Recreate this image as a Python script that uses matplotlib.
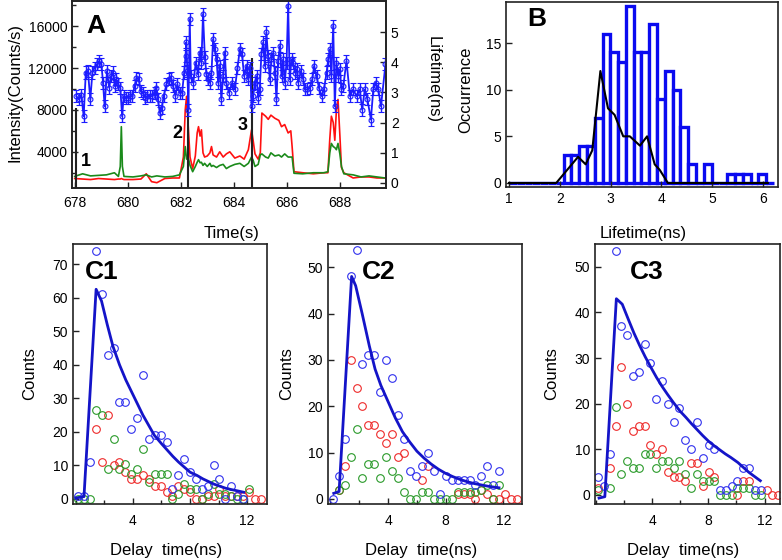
import numpy as np
import matplotlib
matplotlib.use('Agg')
import matplotlib.pyplot as plt
from matplotlib.ticker import MultipleLocator

plt.rcParams['font.family'] = ['Liberation Sans', 'DejaVu Sans']

W, H = 782, 560

# ---------------- panel A data ----------------
# lifetime trace (ns), right axis
lt_time = [678.06, 678.16, 678.25, 678.34, 678.42, 678.50, 678.59, 678.67, 678.75, 678.84,
           678.92, 679.01, 679.07, 679.13, 679.22, 679.30, 679.37, 679.45, 679.51, 679.57,
           679.64, 679.72, 679.79, 679.85, 679.92, 680.01, 680.10, 680.18, 680.26, 680.33,
           680.42, 680.49, 680.58, 680.67, 680.74, 680.83, 680.92, 681.02, 681.08, 681.14,
           681.21, 681.28, 681.36, 681.46, 681.55, 681.62, 681.71, 681.80, 681.87, 681.96,
           682.05, 682.13, 682.18, 682.21, 682.25, 682.29, 682.34, 682.38, 682.47, 682.57,
           682.65, 682.72, 682.78, 682.84, 682.91, 682.97, 683.03, 683.09, 683.16, 683.22,
           683.28, 683.35, 683.41, 683.47, 683.53, 683.60, 683.66, 683.72, 683.82,
           683.94, 684.04, 684.14, 684.23, 684.31, 684.39, 684.48, 684.54, 684.62, 684.67,
           684.73, 684.79, 684.86, 684.92, 684.98, 685.04, 685.11, 685.17, 685.23, 685.29,
           685.36, 685.42, 685.49, 685.55, 685.61, 685.67, 685.74, 685.80, 685.86, 685.92,
           685.99, 686.05, 686.11, 686.18, 686.24, 686.30, 686.37, 686.43, 686.53, 686.62,
           686.68, 686.77, 686.87, 686.96, 687.03, 687.12, 687.21, 687.31, 687.40, 687.50,
           687.56, 687.62, 687.68, 687.75, 687.81, 687.87, 687.94, 688.00, 688.06, 688.13,
           688.25, 688.38, 688.50, 688.63, 688.75, 688.84, 688.94, 689.04, 689.17, 689.26,
           689.35, 689.45, 689.55, 689.72]
lt_val = [2.88, 2.77, 2.93, 2.21, 3.66, 3.71, 2.77, 3.66, 3.82, 3.93,
          4.04, 3.93, 3.32, 2.54, 3.71, 3.16, 3.54, 3.66, 3.21, 3.43,
          3.27, 3.16, 2.21, 2.88, 2.82, 2.82, 2.88, 2.88, 3.21, 3.49,
          3.43, 3.04, 2.99, 2.82, 2.88, 2.88, 2.88, 2.99, 3.16, 2.77,
          2.32, 2.49, 2.88, 3.27, 3.43, 3.49, 3.21, 2.88, 3.27, 2.99,
          2.99, 3.66, 4.21, 4.66, 3.71, 2.43, 5.43, 3.54, 3.32, 3.99,
          3.60, 4.32, 3.99, 5.60, 4.16, 3.60, 3.43, 3.32, 3.66, 4.77,
          4.43, 4.10, 3.32, 3.88, 2.77, 3.54, 4.32, 3.32, 2.99,
          3.32, 3.10, 3.82, 4.43, 4.27, 3.54, 3.88, 3.43, 3.82, 2.54,
          2.88, 3.32, 3.54, 2.82, 3.10, 4.27, 4.66, 3.88, 4.99, 4.21,
          3.43, 4.10, 4.32, 3.66, 2.77, 4.04, 4.54, 3.54, 4.10, 3.32,
          3.99, 5.88, 3.43, 4.10, 3.99, 3.66, 3.77, 3.32, 3.71, 3.43,
          3.10, 3.10, 3.16, 3.43, 3.88, 3.54, 3.16, 2.88, 3.10, 3.66,
          4.10, 4.43, 3.54, 5.21, 2.54, 3.99, 3.54, 3.77, 3.10, 3.21,
          4.04, 2.88, 3.10, 2.88, 3.10, 2.43, 3.10, 2.77, 2.10, 3.10,
          3.32, 3.10, 2.54, 3.93]
lt_err = 0.2

# intensity traces (counts/s), left axis
int_time = [678.0, 678.3, 678.6, 678.9, 679.2, 679.5, 679.65, 679.72, 679.76, 679.8,
            679.86, 680.2, 680.5, 680.7, 680.9, 681.1, 681.4, 681.7, 681.95, 682.1,
            682.17, 682.22, 682.27, 682.35, 682.45, 682.55, 682.62, 682.67, 682.73, 682.78,
            682.84, 682.9, 683.0, 683.1, 683.16, 683.22, 683.35, 683.47, 683.6, 683.72,
            683.85, 684.04, 684.23, 684.39, 684.55, 684.67, 684.73, 684.8, 684.92, 685.0,
            685.06, 685.2, 685.3, 685.4, 685.55, 685.7, 685.8, 685.92, 686.05, 686.15,
            686.2, 686.27, 686.6, 687.0, 687.4, 687.55, 687.62, 687.68, 687.75, 687.81,
            687.87, 687.93, 688.0, 688.06, 688.15, 688.5, 688.8, 689.1, 689.4, 689.7]
int_red = [1450, 1400, 1350, 1450, 1400, 1350, 1400, 1400, 1450, 1400,
           1350, 1350, 1400, 1900, 1150, 1050, 1450, 1500, 1500, 3500,
           8000, 9300, 7000, 3500, 2400, 3600, 5800, 6400, 5500, 6100,
           3900, 3500, 3600, 3900, 4500, 3700, 3500, 4000, 3500, 3800,
           4000, 3400, 3600, 3300, 4200, 6100, 5100, 3800, 3300, 3900,
           7700, 7400, 7100, 7500, 7200, 7000, 6400, 6600, 5800, 6000,
           4500, 2100, 2000, 1900, 2000, 2000, 5200, 7400, 6800, 5100,
           8000, 9000, 5600, 2500, 2000, 1500, 1600, 1600, 1500, 1500]
int_green = [1650, 1900, 1700, 1750, 1800, 2000, 1650, 2600, 6400, 2600,
             1650, 1600, 1700, 1800, 1600, 1700, 1600, 1650, 1800, 2600,
             4500, 3300, 3600, 2700, 2100, 2600, 3000, 3250, 2950, 3000,
             2700, 2900, 2600, 2900, 2600, 2700, 2500, 2700, 2800, 2400,
             2600, 2800, 2900, 2600, 2900, 3500, 3200, 2600, 2800, 3700,
             3800, 3500, 3400, 3900, 3600, 3700, 3500, 3800, 3500, 3500,
             3500, 1950, 1900, 2000, 2000, 2100, 3900, 4800, 4500, 4400,
             4200, 4800, 3800, 2600, 1900, 1800, 1600, 1700, 1600, 1500]

marker_time = [678.05, 682.28, 684.7]
marker_top = [8200, 9300, 13000]
marker_names = ['1', '2', '3']

# ---------------- panel B data ----------------
bin_start = 1.0
bin_width = 0.1535
hist_counts = [0, 0, 0, 0, 0, 0, 0, 3, 3, 4, 4, 7, 16, 14, 13, 19, 14, 14, 17, 9,
               12, 10, 6, 2, 0, 2, 0, 0, 1, 1, 1, 0, 1, 0]
line_x = [1.0, 1.93, 2.36, 2.51, 2.64, 2.8, 2.95, 3.08, 3.25, 3.38, 3.58, 3.72,
          3.87, 3.97, 4.13, 6.1]
line_y = [0, 0, 2.8, 2.0, 3.5, 12, 8, 7.3, 5, 5, 4, 5, 2, 1.4, 0, 0]

# ---------------- panel C data ----------------
delay = np.round(0.16 + 0.413 * np.arange(32), 2)
nan = np.nan

c1_blue = [1, 1, 11, 74, 61, 43, 45, 29, 29, 21, 24, 37, 18, 19, 19, 17, 3, 7, 12, 8,
           6, 3, 4, 10, 6, 0, 4, 1, 0]
c1_red = [nan, nan, nan, 21, 11, 25, 10, 11, 8, 6, 6, 7, 6, 4, 4, 2, 1, 4, 3, 2,
          0, 0, 1, 1, 3, 1, 1, 1, 1, 2, 0, 0]
c1_green = [0, 0, 0, 26.5, 25, 9, 18, 9, 10.5, 7.5, 9, 15, 5, 7.5, 7.5, 7.5, 0, 1.5, 4.5, 3,
            3, 0, 1.5, 4.5, 1.5, 1.5, 1, 0, 0, 3]
c1_fit_t = [0.0, 0.57, 1.42, 1.8, 2.2, 2.6, 3.06, 3.5, 3.9, 4.3, 4.7, 5.1, 5.5, 6.0,
            6.4, 6.8, 7.2, 7.6, 8.0, 8.5, 8.9, 9.3, 9.7, 10.1, 10.5, 10.9, 11.35, 11.77]
c1_fit = [0.3, 0.7, 62.5, 59, 52, 45.5, 40, 35.5, 32, 28.5, 25, 22, 19, 16.5,
          14.6, 12.7, 11, 9.5, 8, 7, 6, 5.2, 4.4, 3.8, 3.2, 2.8, 2.4, 2]

c2_blue = [0, 5, 13, 48, 53.7, 29, 31, 31, 23, 30, 26, 18, 13, 6, 5, 7, 10, 6, 1, 5,
           4, 4, 4, 4, 3, 5, 7, 3, 6]
c2_red = [nan, 2, 7, 30, 24, 20, 16, 16, 14, 12, 14, 9, 10, nan, nan, 4, 7, nan, nan, nan,
          nan, 1, 1, 1, 0, 2, 1, 0, 0, 1, 0, 0]
c2_green = [nan, 2, 3, 9, 15, 4.5, 7.5, 7.5, 4.5, 9, 6, 4.5, 1.5, 0, 0, 1.5, 1.5, 0, 0, 0,
            0, 1.5, 1.5, 1.5, 1.5, 2, 3, 0, 3]
c2_fit_t = [0.23, 0.6, 1.47, 1.75, 2.2, 2.7, 3.1, 3.5, 4.0, 4.5, 5.0, 5.5, 6.0, 6.5,
            7.0, 7.5, 8.0, 8.5, 9.0, 9.5, 10.0, 10.5, 11.0, 11.7]
c2_fit = [1.2, 1.6, 48, 46, 40, 33, 28, 24.5, 21, 17.5, 14.5, 12.3, 10.3, 8.8,
          7.5, 6.4, 5.5, 4.8, 4.2, 3.7, 3.3, 3.0, 2.7, 2.4]

c3_blue = [4, 2, 9, 53.4, 37, 35, 26, 27, 33, 29, 21, 25, 20, 16, 19, 12, 10, 16, 8, 11,
           10, 1, 1, 2, 3, 6, 6, 1, 1]
c3_red = [1.5, nan, 6, 15, 28, 20, 14, 15, 15, 11, 9, 10, 5, 4, 4, 3, 7, 7, 2, 5,
          4, nan, nan, nan, 0, 3, 3, nan, nan, 1, 0, 0]
c3_green = [1, nan, 1.5, 19.3, 4.5, 7.5, 6, 6, 9, 9, 6, 7.5, 7.5, 6, 7.5, 4.5, 1.5, 4.5, 3, 3,
            3, 0, 0, 0, 1.5, 1.5, 1.5, 0, 0]
c3_fit_t = [0.22, 0.63, 1.45, 1.87, 2.3, 2.7, 3.1, 3.5, 3.9, 4.3, 4.7, 5.1, 5.5, 6.0,
            6.4, 6.8, 7.2, 7.6, 8.0, 8.4, 8.8, 9.2, 9.6, 10.1, 10.5, 10.9, 11.3, 11.7]
c3_fit = [-0.7, -0.4, 43, 41.8, 38.5, 35.5, 32.8, 30.3, 28, 25.8, 23.8, 22, 20.3, 18.3,
          17.0, 15.6, 14.3, 13.0, 11.8, 10.8, 9.9, 9.0, 8.2, 7.1, 6.0, 4.9, 4.0, 3.1]

BLUE = '#1c1cff'
RED = '#ff1010'
GREEN = '#1a8a1a'
FIT = '#1414c8'


def px(x, y):
    return x / W, 1 - y / H


def box(l, t, r, b):
    return [l / W, 1 - b / H, (r - l) / W, (b - t) / H]


def style(ax, xpad=3.5):
    for s in ax.spines.values():
        s.set_linewidth(1.2)
        s.set_color('#222222')
    ax.tick_params(which='both', direction='in', width=1, labelsize=10, color='#222222')
    ax.tick_params(which='major', length=4)
    ax.tick_params(which='minor', length=3)
    ax.tick_params(axis='x', pad=xpad)


fig = plt.figure(figsize=(W / 100, H / 100), dpi=100)

# ---------------- panel A ----------------
ax_a = fig.add_axes(box(72, 1, 386, 188))
style(ax_a, xpad=5.5)
ax_a.plot(int_time, int_red, color=RED, lw=1.2)
ax_a.plot(int_time, int_green, color=GREEN, lw=1.2)
for t, top, name in zip(marker_time, marker_top, marker_names):
    ax_a.vlines(t, 0, top, color='#222222', lw=1.5)
ax_a.set_xlim(677.9, 689.74)
ax_a.set_ylim(544, 18400)
ax_a.set_xticks([678, 680, 682, 684, 686, 688])
ax_a.set_yticks([4000, 8000, 12000, 16000])
ax_a.yaxis.set_minor_locator(MultipleLocator(2000))

ax_a2 = ax_a.twinx()
style(ax_a2)
ax_a2.errorbar(lt_time, lt_val, yerr=lt_err, fmt='-o', color=BLUE, lw=1.3, ms=3.5,
               mfc='none', mew=0.8, elinewidth=1, capsize=2.5, capthick=1)
ax_a2.set_ylim(-0.167, 6.03)
ax_a2.set_yticks([0, 1, 2, 3, 4, 5])

fig.text(*px(86, 26), 'A', fontsize=19, fontweight='bold', ha='left', va='center')
fig.text(*px(86, 161), '1', fontsize=13, fontweight='bold', ha='center', va='center')
fig.text(*px(177, 134), '2', fontsize=13, fontweight='bold', ha='center', va='center')
fig.text(*px(243, 125), '3', fontsize=13, fontweight='bold', ha='center', va='center')
fig.text(*px(15, 92), 'Intensity(Counts/s)', fontsize=12, rotation=90, ha='center', va='center')
fig.text(*px(433, 80), 'Lifetime(ns)', fontsize=12, rotation=270, ha='center', va='center')
fig.text(*px(232, 233), 'Time(s)', fontsize=12, ha='center', va='center')

# ---------------- panel B ----------------
ax_b = fig.add_axes(box(506, 2, 778, 187))
style(ax_b)
edges = bin_start + bin_width * np.arange(len(hist_counts))
ax_b.bar(edges, hist_counts, width=bin_width, align='edge', color='white',
         edgecolor='#0a0af0', lw=2.4)
ax_b.plot(line_x, line_y, color='black', lw=1.5)
ax_b.set_xlim(0.94, 6.3)
ax_b.set_ylim(-0.43, 19.4)
ax_b.set_xticks([1, 2, 3, 4, 5, 6])
ax_b.set_yticks([0, 5, 10, 15])
fig.text(*px(527, 19), 'B', fontsize=19, fontweight='bold', ha='left', va='center')
fig.text(*px(466, 90), 'Occurrence', fontsize=12, rotation=90, ha='center', va='center')
fig.text(*px(643, 233), 'Lifetime(ns)', fontsize=12, ha='center', va='center')

# ---------------- panels C ----------------
c_panels = [
    ('C1', c1_blue, c1_red, c1_green, c1_fit_t, c1_fit, (73, 267), (-0.2, 13.4), (-1.5, 76), 10, 85, 30),
    ('C2', c2_blue, c2_red, c2_green, c2_fit_t, c2_fit, (328, 522), (-0.17, 13.3), (-1.1, 55), 10, 362, 287),
    ('C3', c3_blue, c3_red, c3_green, c3_fit_t, c3_fit, (595, 780), (-0.07, 13.1), (-2, 55), 10, 630, 552),
]
for name, blue, red, green, ft, fv, (l, r), xl, yl, ystep, lab_x, cnt_x in c_panels:
    ax = fig.add_axes(box(l, 244, r, 504))
    style(ax, xpad=7.5)
    for vals, col in ((red, '#ee2a2a'), (green, '#2a9a2a'), (blue, '#3030ee')):
        ax.plot(delay[:len(vals)], vals, 'o', ms=5.5, mfc='none', mec=col, mew=0.8)
    ax.plot(ft, fv, color=FIT, lw=2)
    ax.set_xlim(*xl)
    ax.set_ylim(*yl)
    ax.set_xticks([4, 8, 12])
    ax.xaxis.set_minor_locator(MultipleLocator(2))
    ax.yaxis.set_major_locator(MultipleLocator(ystep))
    fig.text(*px(lab_x, 272), name, fontsize=19, fontweight='bold', ha='left', va='center')
    fig.text(*px(cnt_x, 374), 'Counts', fontsize=12, rotation=90, ha='center', va='center')
    fig.text(*px((l + r) / 2 - 4, 550), 'Delay  time(ns)', fontsize=12, ha='center', va='center')

fig.savefig('out.png', dpi=100)
